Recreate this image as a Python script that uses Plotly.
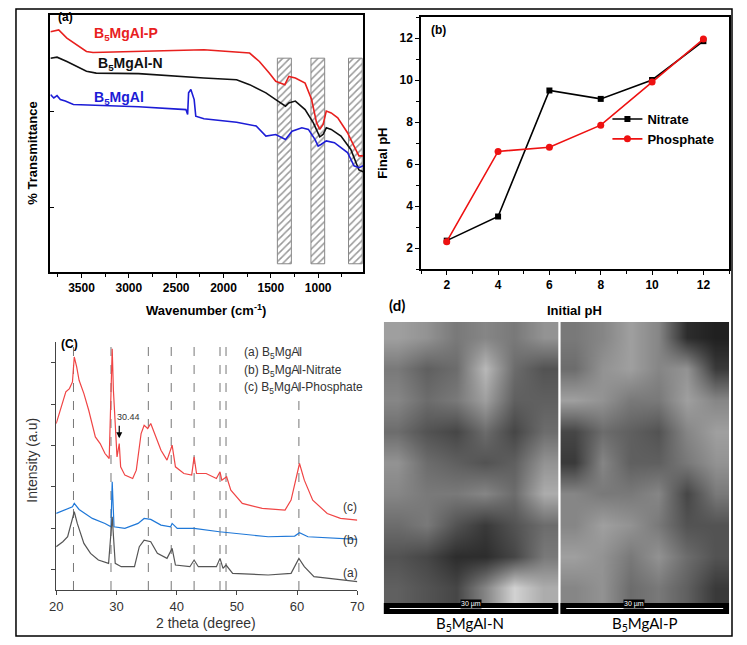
import plotly.graph_objects as go

# page is drawn with an 8px body margin, so the figure is 16px smaller than the window
OFF = 8
W, H = 747 - 2 * OFF, 645 - 2 * OFF
FONT = "Arial, Liberation Sans, sans-serif"


def fx(p):
    return (p - OFF) / W


def fy(p):
    return 1 - (p - OFF) / H


# ---- (a) FTIR ----
wn_p = [3828, 3741, 3655, 3448, 3379, 2897, 2207, 1724, 1621, 1517, 1448, 1352, 1310,
        1241, 1138, 1069, 1017, 983, 948, 914, 862, 793, 690, 621, 569, 524]
tr_p = [93.5, 94.2, 91.0, 85.8, 85.4, 85.8, 86.5, 85.2, 81.9, 77.4, 74.2, 72.9, 76.1,
        75.5, 73.5, 67.1, 58.1, 55.5, 57.4, 62.6, 61.9, 60.0, 54.2, 49.0, 45.2, 45.2]
wn_n = [3828, 3759, 3655, 3448, 3345, 2897, 2207, 1862, 1724, 1552, 1448, 1345, 1310,
        1241, 1138, 1052, 983, 948, 914, 862, 759, 655, 569, 524]
tr_n = [83.2, 83.6, 81.9, 78.1, 77.4, 77.2, 75.5, 74.8, 72.9, 69.7, 67.1, 64.5, 65.8,
        66.5, 63.2, 58.1, 52.6, 53.5, 56.1, 55.5, 52.9, 47.7, 39.7, 39.0]
wn_b = [3828, 3793, 3759, 3724, 3672, 3586, 2897, 2397, 2379, 2369, 2345, 2310, 2293,
        2207, 1862, 1655, 1552, 1448, 1345, 1276, 1172, 1103, 1034, 1000, 966, 914, 828,
        690, 621, 569, 524]
tr_b = [69.0, 67.7, 68.6, 67.1, 66.5, 65.2, 64.3, 63.2, 61.3, 69.7, 71.0, 67.1, 60.6,
        59.6, 58.3, 56.8, 52.9, 53.5, 51.6, 54.8, 56.1, 55.5, 51.6, 49.0, 49.7, 51.0, 50.3,
        46.5, 41.3, 40.6, 41.3]
hatch_lo = [1283, 931, 534]
hatch_hi = [1431, 1076, 679]

# ---- (b) pH ----
ph_initial = [2, 4, 6, 8, 10, 12]
ph_nitrate = [2.35, 3.5, 9.5, 9.1, 10.0, 11.85]
ph_phosphate = [2.3, 6.6, 6.8, 7.85, 9.9, 11.95]

# ---- (c) XRD ----
tt_c = [20, 20.8, 21.6, 22.2, 22.7, 23.0, 23.4, 23.8, 24.6, 25.4, 26.5, 27.3, 28.1, 28.8,
        29.1, 29.3, 29.5, 29.8, 30.1, 30.47, 30.7, 31.4, 32.7, 33.3, 34.1, 34.6, 35.2, 35.7,
        36.5, 37.4, 38.4, 39.25, 39.8, 41.2, 42.5, 42.9, 43.3, 44.9, 46.6, 47.2, 47.5, 48.3,
        49.0, 50.9, 54.2, 58.0, 59.0, 60.4, 61.2, 62.6, 65.0, 67.2, 70]
int_c = [50, 55, 59.5, 60.5, 62.5, 70, 67, 63, 59, 54, 46, 44, 41, 39.5,
         60, 72.5, 60, 49, 40, 44, 37, 34.5, 33.5, 36, 47, 49.5, 48.5, 50,
         46, 42, 39, 43.5, 37, 35, 34.5, 40, 35, 35, 33.5, 35.5, 33, 34,
         30, 26, 24.5, 24, 27, 38, 33, 27, 23, 21.5, 21]
tt_b = [20, 21.4, 22.7, 23.0, 23.8, 26.0, 28.1, 29.1, 29.3, 29.6, 31.4, 33.6, 34.6, 35.7,
        37.4, 39.0, 39.25, 40.1, 42.9, 47.1, 49.8, 55.2, 59.6, 60.4, 61.8, 70]
int_b = [23, 24, 25, 26, 24.2, 21.5, 20, 19, 32.5, 19, 18.5, 20, 21.5, 21.2,
         19.5, 19, 20, 18.5, 18.5, 17.5, 17, 16, 16.2, 17.2, 16, 15.2]
tt_a = [20, 21.1, 21.9, 22.7, 23.0, 23.5, 24.6, 25.7, 27.0, 28.7, 29.3, 29.8, 30.8, 33.0,
        33.8, 34.6, 35.7, 36.8, 38.4, 39.25, 39.8, 42.2, 42.9, 43.6, 46.6, 47.2, 47.7, 48.2,
        49.3, 55.2, 59.0, 60.3, 61.2, 62.8, 70]
int_a = [13, 14.5, 16, 22, 23.5, 20, 14, 11, 9, 8, 22, 8, 7, 7,
         13, 15, 14.5, 11, 9.5, 12.5, 7.5, 7, 9, 7, 7, 9.5, 6.5, 7.5,
         5, 4.5, 5, 9.5, 7, 4, 2.5]
peak_positions = [22.87, 29.1, 35.3, 39.1, 42.9, 47.2, 48.2, 60.3]

# ---- (d) SEM brightness (coarse reading of the micrographs) ----
sem_n = [
    [150, 140, 120, 130, 120, 140],
    [120, 100, 110, 170, 110, 90],
    [130, 110, 120, 150, 100, 100],
    [110, 90, 80, 110, 80, 110],
    [140, 110, 100, 90, 100, 140],
    [130, 120, 120, 130, 110, 160],
    [110, 120, 90, 70, 90, 110],
    [90, 80, 60, 60, 80, 120],
    [100, 90, 80, 130, 190, 160],
]
sem_p = [
    [120, 130, 150, 130, 60, 50],
    [110, 140, 150, 130, 140, 70],
    [150, 140, 120, 120, 150, 130],
    [80, 110, 100, 90, 130, 150],
    [70, 130, 100, 100, 120, 140],
    [130, 120, 120, 130, 80, 120],
    [130, 150, 140, 120, 90, 90],
    [150, 140, 120, 140, 110, 90],
    [130, 140, 110, 120, 100, 70],
]

fig = go.Figure()

# (a)
fig.add_trace(go.Bar(x=[(lo + hi) / 2 for lo, hi in zip(hatch_lo, hatch_hi)],
                     y=[80] * 3, base=3.2, width=[hi - lo for lo, hi in zip(hatch_lo, hatch_hi)],
                     marker=dict(color="white", line=dict(color="#888", width=1),
                                 pattern=dict(shape="/", fgcolor="#333", size=5, solidity=0.3)),
                     showlegend=False, xaxis="x", yaxis="y", hoverinfo="skip"))
for xs, ys, col in [(wn_p, tr_p, "#e8201e"), (wn_n, tr_n, "#111111"), (wn_b, tr_b, "#1c1cd6")]:
    fig.add_trace(go.Scatter(x=xs, y=ys, mode="lines", line=dict(color=col, width=1.6),
                             showlegend=False, xaxis="x", yaxis="y"))

# (b)
fig.add_trace(go.Scatter(x=ph_initial, y=ph_nitrate, mode="lines+markers", name="Nitrate",
                         line=dict(color="black", width=1.6),
                         marker=dict(symbol="square", size=6, color="black"),
                         xaxis="x2", yaxis="y2"))
fig.add_trace(go.Scatter(x=ph_initial, y=ph_phosphate, mode="lines+markers", name="Phosphate",
                         line=dict(color="#ee1111", width=1.6),
                         marker=dict(symbol="circle", size=7, color="#ee1111"),
                         xaxis="x2", yaxis="y2"))

# (c)
for xs, ys, col in [(tt_c, int_c, "#f04545"), (tt_b, int_b, "#1f78d8"), (tt_a, int_a, "#555555")]:
    fig.add_trace(go.Scatter(x=xs, y=ys, mode="lines", line=dict(color=col, width=1.2),
                             showlegend=False, xaxis="x3", yaxis="y3"))

# (d)
gray = [[0, "#000000"], [1, "#ffffff"]]
fig.add_trace(go.Heatmap(z=sem_n, colorscale=gray, zmin=25, zmax=225, zsmooth="best",
                         showscale=False, xaxis="x4", yaxis="y4", hoverinfo="skip"))
fig.add_trace(go.Heatmap(z=sem_p, colorscale=gray, zmin=25, zmax=225, zsmooth="best",
                         showscale=False, xaxis="x5", yaxis="y5", hoverinfo="skip"))

bold_tick = dict(family=FONT, size=12, color="black", weight="bold")
reg_tick = dict(family=FONT, size=13, color="#333")

shapes = []
for x in peak_positions:
    shapes.append(dict(type="line", xref="x3", yref="y3 domain", x0=x, x1=x, y0=0, y1=1,
                       line=dict(color="#777", width=1, dash="dash"), layer="below"))
# outer frame
shapes.append(dict(type="rect", xref="paper", yref="paper", x0=fx(9), x1=fx(739),
                   y0=fy(636), y1=fy(9), line=dict(color="black", width=1.5)))
# scale bars
for a, b in [(384, 562), (564, 736)]:
    shapes.append(dict(type="rect", xref="paper", yref="paper", x0=fx(a), x1=fx(b),
                       y0=fy(614), y1=fy(603), fillcolor="black", line=dict(width=0)))
    shapes.append(dict(type="line", xref="paper", yref="paper", x0=fx(a + 6), x1=fx(b - 6),
                       y0=fy(608.5), y1=fy(608.5), line=dict(color="white", width=1)))

ann = []


def txt(x, y, s, size=12, color="black", weight="normal", xanchor="center", angle=0, family=FONT):
    ann.append(dict(x=fx(x), y=fy(y), xref="paper", yref="paper", text=s, showarrow=False,
                    xanchor=xanchor, yanchor="middle", textangle=angle,
                    font=dict(family=family, size=size, color=color, weight=weight)))


txt(50, 17, "(a)", 12, weight="bold", xanchor="left")
txt(87, 34, "B<sub>5</sub>MgAl-P", 14, "#e8201e", "bold", "left")
txt(91, 64, "B<sub>5</sub>MgAl-N", 14, "#111", "bold", "left")
txt(87, 98, "B<sub>5</sub>MgAl", 14, "#1c1cd6", "bold", "left")
txt(26, 153, "% Transmittance", 13, weight="bold", angle=-90)
txt(203, 310, "Wavenumber (cm<sup>-1</sup>)", 13, weight="bold")
txt(430, 30, "(b)", 12, weight="bold", xanchor="left")
txt(383, 153, "Final pH", 13, weight="bold", angle=-90)
txt(578, 310, "Initial pH", 13, weight="bold")
txt(53, 344, "(C)", 12, weight="bold", xanchor="left")
txt(239, 353, "(a) B<sub>5</sub>MgAl", 12, "#333", xanchor="left")
txt(239, 371, "(b) B<sub>5</sub>MgAl-Nitrate", 12, "#333", xanchor="left")
txt(239, 388, "(c) B<sub>5</sub>MgAl-Phosphate", 12, "#333", xanchor="left")
txt(124, 417, "30.44", 9, "#333")
txt(350, 507, "(c)", 12, "#333")
txt(350, 540, "(b)", 12, "#333")
txt(350, 573, "(a)", 12, "#333")
txt(25, 460, "Intensity (a.u)", 14, "#333", angle=-90)
txt(203, 623, "2 theta (degree)", 14, "#333")
txt(387, 305, "(d)", 15, weight="bold", xanchor="left", family="Lato, sans-serif")
txt(472, 624, "B<sub>5</sub>MgAl-N", 15, family="Lato, sans-serif")
txt(650, 624, "B<sub>5</sub>MgAl-P", 15, family="Lato, sans-serif")
for cx in [473, 650]:
    ann.append(dict(x=fx(cx), y=fy(608.5), xref="paper", yref="paper", text="30 µm",
                    showarrow=False, bgcolor="black", borderpad=0,
                    font=dict(family=FONT, size=7, color="white")))
ann.append(dict(x=30.47, y=45.6, xref="x3", yref="y3", text="", showarrow=True,
                ax=0, ay=-14, arrowhead=2, arrowsize=1, arrowwidth=1.2, arrowcolor="black"))

fig.update_layout(
    width=W, height=H, margin=dict(l=0, r=0, t=0, b=0),
    paper_bgcolor="white", plot_bgcolor="white",
    font=dict(family=FONT),
    xaxis=dict(domain=[fx(44), fx(363)], range=[3830, 524], anchor="y",
               showline=True, mirror=True, linecolor="black", linewidth=1.5,
               ticks="outside", ticklen=4, tickwidth=1.2, tickcolor="black", dtick=500, tick0=0,
               minor=dict(ticks="outside", ticklen=3, dtick=250, tickcolor="black"),
               showgrid=False, zeroline=False, tickfont=bold_tick),
    yaxis=dict(domain=[fy(272), fy(15)], range=[0, 100], anchor="x",
               showline=True, mirror=True, linecolor="black", linewidth=1.5,
               ticks="inside", ticklen=4, tickcolor="black", tickvals=[25.2, 62.3],
               showticklabels=False, showgrid=False, zeroline=False),
    xaxis2=dict(domain=[fx(422), fx(736)], range=[1, 13], anchor="y2",
                showline=True, mirror=True, linecolor="black", linewidth=1.5,
                ticks="outside", ticklen=4, tickwidth=1.2, tickcolor="black", dtick=2,
                minor=dict(ticks="outside", ticklen=3, dtick=1, tickcolor="black"),
                showgrid=False, zeroline=False, tickfont=bold_tick),
    yaxis2=dict(domain=[fy(269), fy(17)], range=[1, 13], anchor="x2",
                showline=True, mirror=True, linecolor="black", linewidth=1.5,
                ticks="outside", ticklen=4, tickwidth=1.2, tickcolor="black", dtick=2,
                minor=dict(ticks="outside", ticklen=3, dtick=1, tickcolor="black"),
                showgrid=False, zeroline=False, tickfont=bold_tick),
    xaxis3=dict(domain=[fx(50), fx(357)], range=[20, 70], anchor="y3",
                showline=True, linecolor="#444", linewidth=1,
                ticks="outside", ticklen=4, tickcolor="#444", dtick=10,
                showgrid=False, zeroline=False, tickfont=reg_tick),
    yaxis3=dict(domain=[fy(590), fy(342)], range=[0, 74.5], anchor="x3",
                showline=True, linecolor="#444", linewidth=1,
                ticks="outside", ticklen=4, tickcolor="#444", tick0=6.2, dtick=12.4,
                showticklabels=False, showgrid=False, zeroline=False),
    xaxis4=dict(domain=[fx(384), fx(562)], range=[-0.5, 5.5], anchor="y4", visible=False),
    yaxis4=dict(domain=[fy(603), fy(322)], range=[8.5, -0.5], anchor="x4", visible=False),
    xaxis5=dict(domain=[fx(564), fx(736)], range=[-0.5, 5.5], anchor="y5", visible=False),
    yaxis5=dict(domain=[fy(603), fy(322)], range=[8.5, -0.5], anchor="x5", visible=False),
    legend=dict(x=fx(612), y=fy(104), xanchor="left", yanchor="top",
                bgcolor="rgba(0,0,0,0)", itemwidth=30, tracegroupgap=0,
                font=dict(family=FONT, size=13, color="black", weight="bold")),
    shapes=shapes, annotations=ann,
)

fig.write_html("out.html")
